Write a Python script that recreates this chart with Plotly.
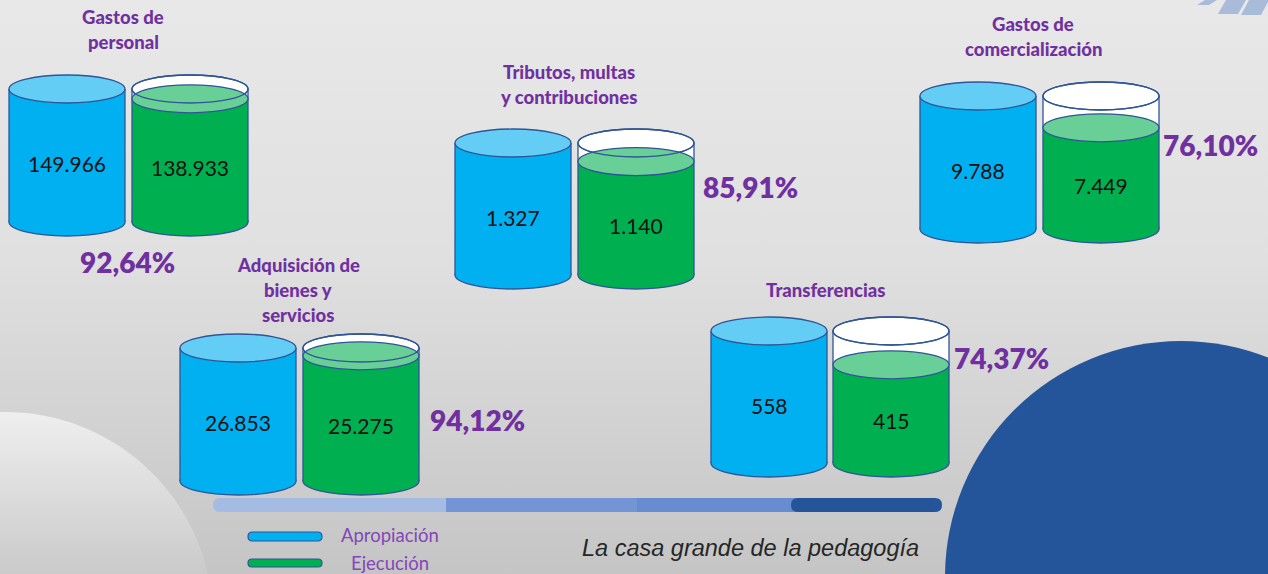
import numpy as np
import plotly.graph_objects as go

# Presupuesto por rubro: apropiación vs. ejecución (millones)
titulos = [
    ["Gastos de", "personal"],
    ["Adquisición de", "bienes y", "servicios"],
    ["Tributos, multas", "y contribuciones"],
    ["Gastos de", "comercialización"],
    ["Transferencias"],
]
apropiacion = [149966, 26853, 1327, 9788, 558]
ejecucion = [138933, 25275, 1140, 7449, 415]

W, H = 1268, 574

# Colocación de cada par de cilindros en el lienzo
posiciones = [
    dict(xb=9, xg=132, top=89, bot=222, tx=123, ty=17, px=127, py=262, pa="center"),
    dict(xb=180, xg=303, top=348, bot=481, tx=298, ty=265, px=428, py=420, pa="left"),
    dict(xb=455, xg=578, top=143, bot=275, tx=569, ty=72, px=701, py=187, pa="left"),
    dict(xb=920, xg=1043, top=96, bot=229, tx=1033, ty=24, px=1161, py=145, pa="left"),
    dict(xb=711, xg=833, top=331, bot=463, tx=825, ty=290, px=952, py=358, pa="left"),
]
ANCHO = 116
RY = 14

AZUL = "#00b0f0"
AZUL_TAPA = "#63cdf5"
VERDE = "#00b050"
VERDE_TAPA = "#68d097"
BORDE = "#2f5597"
MORADO = "#7030a0"


def fmt_miles(v):
    return f"{v:,}".replace(",", ".")


def fmt_pct(p):
    return f"{p * 100:.2f}".replace(".", ",") + "%"


def elipse(x0, x1, yc, fill, line=True):
    return dict(type="circle", xref="x", yref="y", x0=x0, x1=x1, y0=yc - RY, y1=yc + RY,
                fillcolor=fill, line=dict(color=BORDE, width=1.3 if line else 0))


def rect(x0, x1, y0, y1, fill):
    return dict(type="rect", xref="x", yref="y", x0=x0, x1=x1, y0=y0, y1=y1,
                fillcolor=fill, line=dict(width=0))


def lados(x0, x1, y0, y1):
    return [dict(type="line", xref="x", yref="y", x0=x, x1=x, y0=y0, y1=y1,
                 line=dict(color=BORDE, width=1.3)) for x in (x0, x1)]


def pildora(x0, x1, y0, y1, fill, line=None):
    r = (y1 - y0) / 2
    yc = (y0 + y1) / 2
    path = (f"M {x0 + r},{y0} L {x1 - r},{y0} Q {x1},{y0} {x1},{yc} Q {x1},{y1} {x1 - r},{y1} "
            f"L {x0 + r},{y1} Q {x0},{y1} {x0},{yc} Q {x0},{y0} {x0 + r},{y0} Z")
    return dict(type="path", xref="x", yref="y", path=path, fillcolor=fill,
                line=dict(color=line or fill, width=1.2 if line else 0))


fig = go.Figure()

# Fondo gris degradado
fig.add_trace(go.Scatter(
    x=[0, W, W, 0, 0], y=[0, 0, H, H, 0], mode="none", fill="toself",
    fillgradient=dict(type="vertical", start=0, stop=H,
                      colorscale=[[0, "#e8e8e8"], [0.45, "#e0e0e0"], [1, "#c5c5c5"]]),
    hoverinfo="skip", showlegend=False))

# Círculo claro decorativo (abajo a la izquierda)
t = np.linspace(0, 2 * np.pi, 240)
fig.add_trace(go.Scatter(
    x=5 + 208 * np.cos(t), y=620 + 208 * np.sin(t), mode="none", fill="toself",
    fillgradient=dict(type="vertical", start=410, stop=574,
                      colorscale=[[0, "#efefef"], [1, "#cacaca"]]),
    hoverinfo="skip", showlegend=False))

shapes = []

# Círculo azul (abajo a la derecha)
shapes.append(dict(type="circle", xref="x", yref="y", x0=945, x1=1417, y0=341, y1=813,
                   fillcolor="#24559a", line=dict(width=0)))

# Franjas diagonales (arriba a la derecha)
for xs, yb in [(1197, 5), (1218, 14), (1241, 15)]:
    w = 20 if yb > 6 else 12
    shapes.append(dict(type="path", xref="x", yref="y",
                       path=f"M {xs},{yb} L {xs + w},{yb} L {xs + w + 8},0 L {xs + 8},0 Z",
                       fillcolor="#a8bcd9", line=dict(width=0)))

annotations = []

for tit, ap, ej, p in zip(titulos, apropiacion, ejecucion, posiciones):
    top, bot = p["top"], p["bot"]
    pct = ej / ap

    # Cilindro de apropiación
    x0, x1 = p["xb"], p["xb"] + ANCHO
    shapes.append(elipse(x0, x1, bot, AZUL))
    shapes.append(rect(x0, x1, top, bot, AZUL))
    shapes += lados(x0, x1, top, bot)
    shapes.append(elipse(x0, x1, top, AZUL_TAPA))
    annotations.append(dict(x=(x0 + x1) / 2, y=(top + bot) / 2 + 8, text=fmt_miles(ap),
                            font=dict(size=21, color="#111111", family="Lato")))

    # Cilindro de ejecución: el nivel del líquido es el porcentaje ejecutado
    g0, g1 = p["xg"], p["xg"] + ANCHO
    nivel = bot - pct * (bot - top)
    shapes.append(elipse(g0, g1, bot, VERDE))
    shapes.append(rect(g0, g1, top, nivel, "#ffffff"))
    shapes.append(rect(g0, g1, nivel, bot, VERDE))
    shapes += lados(g0, g1, top, bot)
    shapes.append(elipse(g0, g1, top, "#ffffff"))
    shapes.append(elipse(g0, g1, nivel, VERDE_TAPA))
    shapes.append(dict(type="circle", xref="x", yref="y", x0=g0, x1=g1, y0=top - RY, y1=top + RY,
                       fillcolor="rgba(0,0,0,0)", line=dict(color=BORDE, width=1.3)))
    annotations.append(dict(x=(g0 + g1) / 2, y=(nivel + bot + RY) / 2, text=fmt_miles(ej),
                            font=dict(size=21, color="#111111", family="Lato")))

    # Título del rubro
    for i, linea in enumerate(tit):
        annotations.append(dict(x=p["tx"], y=p["ty"] + 25 * i, text=linea,
                                font=dict(size=18.5, color=MORADO, family="Lato", weight=900)))

    # Porcentaje de ejecución
    annotations.append(dict(x=p["px"], y=p["py"], text=fmt_pct(pct),
                            xanchor=p["pa"],
                            font=dict(size=28, color=MORADO, family="Lato", weight=800)))

# Barra de progreso inferior
bx0, bx1, by0, by1 = 213, 942, 498, 512
cortes = [bx0, 446, 637, 801, bx1]
colores = ["#a4bbe4", "#7395d5", "#688cd1", "#24559a"]
shapes.append(pildora(bx0, cortes[1] + 10, by0, by1, colores[0]))
shapes.append(rect(cortes[1], cortes[2], by0, by1, colores[1]))
shapes.append(rect(cortes[2], cortes[3], by0, by1, colores[2]))
shapes.append(pildora(cortes[3] - 10, bx1, by0, by1, colores[3]))
shapes.append(rect(cortes[3], cortes[3] + 10, by0, by1, colores[3]))

# Leyenda
shapes.append(pildora(248, 322, 532, 541, AZUL, BORDE))
shapes.append(pildora(248, 322, 559, 567, VERDE, BORDE))
annotations.append(dict(x=390, y=535, text="Apropiación",
                        font=dict(size=18.5, color="#8446b8", family="Lato")))
annotations.append(dict(x=390, y=563, text="Ejecución",
                        font=dict(size=18.5, color="#8446b8", family="Lato")))

annotations.append(dict(x=750, y=548, text="<i>La casa grande de la pedagogía</i>",
                        font=dict(size=23.5, color="#262626", family="Liberation Sans")))

for a in annotations:
    a.setdefault("xref", "x")
    a.setdefault("yref", "y")
    a.setdefault("showarrow", False)
    a.setdefault("xanchor", "center")
    a.setdefault("yanchor", "middle")

fig.update_layout(
    width=W, height=H, autosize=False,
    margin=dict(l=0, r=0, t=0, b=0, pad=0),
    paper_bgcolor="#e4e4e4", plot_bgcolor="#e4e4e4",
    shapes=shapes, annotations=annotations, showlegend=False,
    xaxis=dict(range=[0, W], visible=False, fixedrange=True),
    yaxis=dict(range=[H, 0], visible=False, fixedrange=True),
)

fig.write_html("out.html", config={"displayModeBar": False})
